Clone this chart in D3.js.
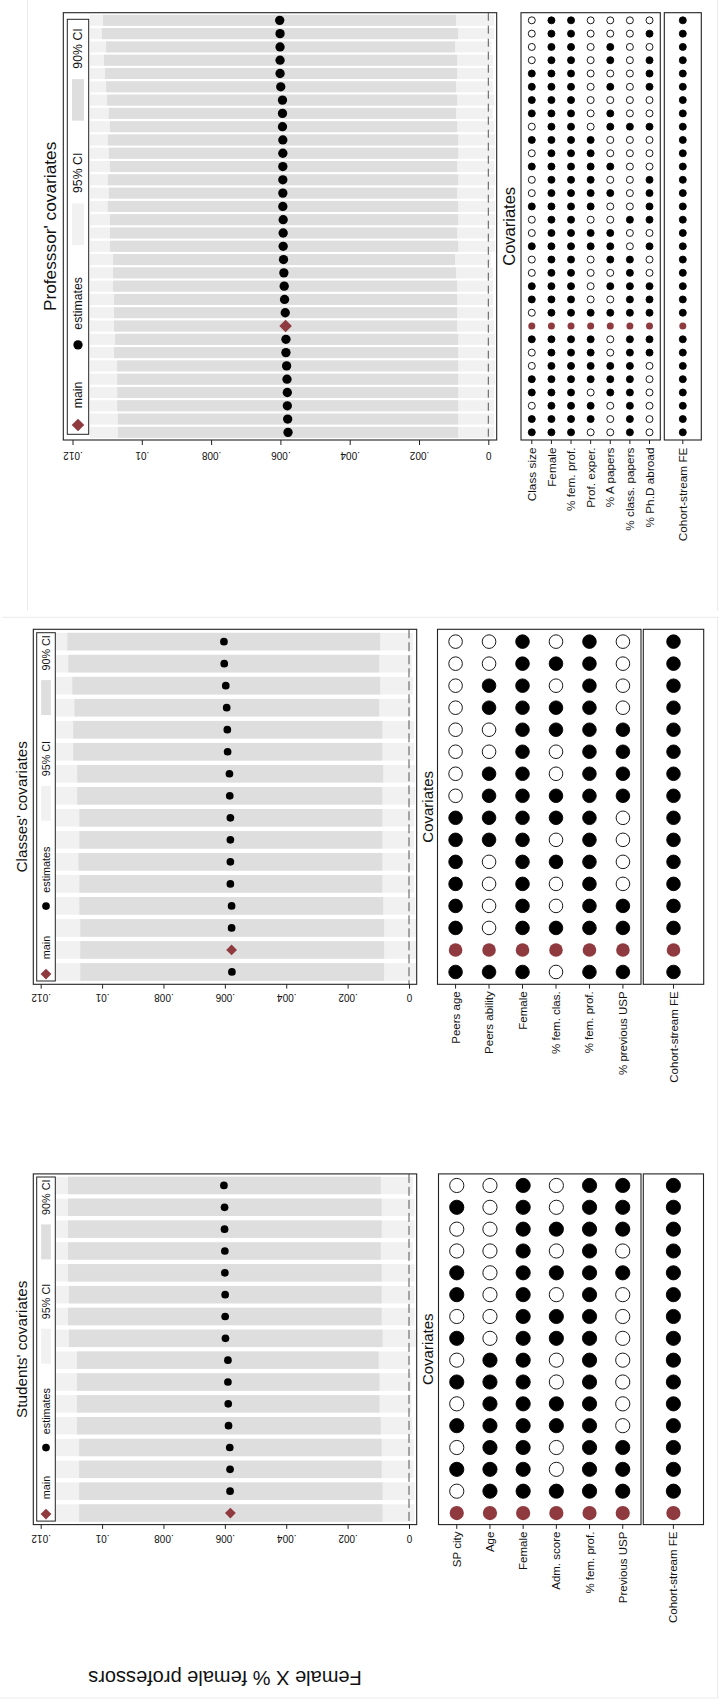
<!DOCTYPE html>
<html>
<head>
<meta charset="utf-8">
<script src="https://cdn.jsdelivr.net/npm/d3@7"></script>
<style>
  html, body { margin: 0; padding: 0; background: #fff; }
  svg { display: block; font-family: "Liberation Sans", Arial, Helvetica, sans-serif; }
</style>
</head>
<body>
<script>
// ---------- shared labels ----------
const tickValues = [0, 0.002, 0.004, 0.006, 0.008, 0.01, 0.012];
const tickLabels = ["0", ".002", ".004", ".006", ".008", ".01", ".012"];
const legendKeys = ["main", "estimates", "95% CI", "90% CI"];
const fixedEffects = ["Cohort-stream FE"];

// ---------- Professors' covariates (rows listed top to bottom) ----------
const profCovariates = ["Class size", "Female", "% fem. prof.", "Prof. exper.", "% A papers", "% class. papers", "% Ph.D abroad"];
const profEstimate = [.00602, .00601, .00601, .00601, .00601, .00599, .00594, .00594, .00594, .00593, .00593, .00593, .00593, .00593, .00593, .00592,
                      .00592, .00592, .00591, .00590, .00589, .00588, .00586, .00585, .00584, .00584, .00582, .00581, .00580, .00580, .00579, .00578];
const profHigh90 = [.01112, .01115, .01103, .01109, .01106, .01103, .01100, .01095, .01092, .01098, .01095, .01092, .01098, .01095, .01098, .01092,
                    .01092, .01092, .01083, .01083, .01083, .01080, .01080, .01080, .01077, .01080, .01071, .01071, .01071, .01071, .01069, .01069];
const profLow90 = [.00093, .00087, .00096, .00090, .00090, .00093, .00090, .00093, .00090, .00087, .00087, .00090, .00087, .00090, .00087, .00087,
                   .00090, .00087, .00096, .00093, .00090, .00090, .00090, .00090, .00087, .00087, .00087, .00087, .00087, .00087, .00087, .00087];
const profHigh95 = [.01221, .01219, .01211, .01216, .01216, .01211, .01205, .01201, .01205, .01205, .01205, .01203, .01205, .01203, .01205, .01203,
                    .01201, .01203, .01189, .01193, .01192, .01190, .01186, .01187, .01187, .01187, .01183, .01181, .01177, .01177, .01175, .01173];
const profLow95 = [-.00017, -.00017, -.00009, -.00014, -.00014, -.00013, -.00017, -.00013, -.00017, -.00019, -.00019, -.00017, -.00019, -.00017, -.00019, -.00019,
                   -.00017, -.00019, -.00007, -.00013, -.00014, -.00014, -.00014, -.00017, -.00019, -.00019, -.00019, -.00019, -.00017, -.00017, -.00017, -.00017];
const profSpecs = ["0110000", "0110001", "0110100", "0110101", "1110001", "1110101", "1110000", "1110100",
                   "0110111", "1111000", "0111000", "1111100", "0111001", "0111101", "1111001", "0110011",
                   "0111100", "1111101", "0110110", "0110010", "1110111", "1110011", "0111111", "1111111",
                   "1111011", "0111011", "0111110", "1111110", "1110110", "0111010", "1111010", "1110010"];
const profFE = [1, 1, 1, 1, 1, 1, 1, 1, 1, 1, 1, 1, 1, 1, 1, 1, 1, 1, 1, 1, 1, 1, 1, 1, 1, 1, 1, 1, 1, 1, 1, 1];
const profMain = 23;

// ---------- Classes' covariates ----------
const classCovariates = ["Peers age", "Peers ability", "Female", "% fem. clas.", "% fem. prof.", "% previous USP"];
const classEstimate = [.00603, .00602, .00597, .00594, .00592, .00591, .00585, .00584, .00582, .00582, .00582, .00582, .00578, .00578, .00578, .00577];
const classHigh90 = [.01113, .01110, .01097, .01090, .01094, .01094, .01081, .01081, .01074, .01074, .01077, .01074, .01074, .01071, .01071, .01071];
const classLow90 = [.00094, .00097, .00094, .00097, .00087, .00087, .00084, .00087, .00087, .00087, .00087, .00087, .00084, .00081, .00081, .00081];
const classHigh95 = [.01219, .01213, .01207, .01194, .01201, .01199, .01190, .01188, .01181, .01181, .01181, .01181, .01176, .01179, .01179, .01177];
const classLow95 = [-.00013, -.00009, -.00013, -.00006, -.00017, -.00017, -.00020, -.00020, -.00017, -.00017, -.00017, -.00017, -.00020, -.00023, -.00023, -.00023];
const classSpecs = ["001010", "001110", "011010", "011110", "001111", "001011", "011011", "011111",
                    "111110", "111010", "101110", "101010", "101011", "101111", "111111", "111011"];
const classFE = [1, 1, 1, 1, 1, 1, 1, 1, 1, 1, 1, 1, 1, 1, 1, 1];
const classMain = 14;

// ---------- Students' covariates ----------
const studentCovariates = ["SP city", "Age", "Female", "Adm. score", "% fem. prof.", "Previous USP"];
const studentEstimate = [.00603, .00601, .00601, .00600, .00600, .00599, .00599, .00598, .00590, .00590, .00589, .00588, .00584, .00583, .00583, .00582];
const studentHigh90 = [.01111, .01111, .01111, .01111, .01111, .01108, .01111, .01108, .01082, .01082, .01082, .01082, .01075, .01075, .01075, .01075];
const studentLow90 = [.00092, .00089, .00089, .00092, .00089, .00089, .00089, .00086, .00099, .00096, .00096, .00092, .00089, .00089, .00086, .00086];
const studentHigh95 = [.01219, .01220, .01220, .01213, .01218, .01216, .01216, .01218, .01184, .01188, .01186, .01187, .01183, .01181, .01184, .01182];
const studentLow95 = [-.00013, -.00018, -.00018, -.00013, -.00018, -.00018, -.00018, -.00022, -.00004, -.00008, -.00008, -.00011, -.00015, -.00015, -.00018, -.00018];
const studentSpecs = ["001011", "101011", "001111", "001010", "101111", "101010", "001110", "101110",
                      "011010", "111010", "011110", "111110", "011011", "111011", "011111", "111111"];
const studentFE = [1, 1, 1, 1, 1, 1, 1, 1, 1, 1, 1, 1, 1, 1, 1, 1];
const studentMain = 15;

const figureTitle = "Female X % female professors";

// ---------- styling ----------
const MAIN = "#8f3a3f";
const LIGHT = "#f1f1f1";
const DARK = "#dedede";
const FRAME = "#222";
const PAGE_LINE = "#ebebeb";

const svg = d3.select("body").append("svg").attr("width", 719).attr("height", 1700);

// faint page edges of the two stacked figures
const edges = [
  [27.5, 0, 27.5, 610.7], [717.5, 0, 717.5, 610.7],
  [2, 617.3, 719, 617.3], [717.5, 617.3, 717.5, 1698], [0, 1698, 719, 1698]
];
svg.append("g").selectAll("line").data(edges).join("line")
  .attr("x1", d => d[0]).attr("y1", d => d[1]).attr("x2", d => d[2]).attr("y2", d => d[3])
  .attr("stroke", PAGE_LINE).attr("stroke-width", 1);

let clipCount = 0;

function diamondPath(size) {
  return d3.symbol(d3.symbolSquare, size)();
}

function drawPanel(L, D) {
  const g = svg.append("g");
  const x = d3.scaleLinear().domain([0, 0.012]).range([L.zeroX, L.maxX]);
  const n = D.estimate.length;
  const rows = d3.range(n);
  const y = d3.scalePoint().domain(rows).range([L.y0, L.y1]).padding(L.rowPad);
  const bandH = y.step() * L.bandFrac;

  const clipId = "plotclip" + (clipCount++);
  g.append("clipPath").attr("id", clipId).append("rect")
    .attr("x", L.x0).attr("y", L.y0).attr("width", L.x1 - L.x0).attr("height", L.y1 - L.y0);
  const plot = g.append("g").attr("clip-path", `url(#${clipId})`);

  // 95% intervals
  plot.append("g").selectAll("rect").data(rows).join("rect")
    .attr("x", i => x(D.high95[i])).attr("width", i => x(D.low95[i]) - x(D.high95[i]))
    .attr("y", i => y(i) - bandH / 2).attr("height", bandH).attr("fill", LIGHT);
  // 90% intervals
  plot.append("g").selectAll("rect").data(rows).join("rect")
    .attr("x", i => x(D.high90[i])).attr("width", i => x(D.low90[i]) - x(D.high90[i]))
    .attr("y", i => y(i) - bandH / 2).attr("height", bandH).attr("fill", DARK);

  // zero reference
  plot.append("line")
    .attr("x1", x(0)).attr("x2", x(0)).attr("y1", L.y0).attr("y2", L.y1)
    .attr("stroke", "#444").attr("stroke-width", 0.9).attr("stroke-dasharray", L.dash);

  // point estimates
  plot.append("g").selectAll("circle").data(rows.filter(i => i !== D.main)).join("circle")
    .attr("cx", i => x(D.estimate[i])).attr("cy", i => y(i)).attr("r", L.dotR).attr("fill", "#000");
  plot.append("path")
    .attr("d", diamondPath(L.diamondSize))
    .attr("transform", `translate(${x(D.estimate[D.main])},${y(D.main)}) rotate(45)`)
    .attr("fill", MAIN);

  // legend inside the plot region
  const lg = L.legend;
  g.append("rect").attr("x", L.x0 + 0.5).attr("y", L.y0 + 0.5)
    .attr("width", lg.cover - L.x0 - 0.5).attr("height", L.y1 - L.y0 - 1).attr("fill", "#fff");
  g.append("rect").attr("x", lg.x0).attr("y", lg.y0)
    .attr("width", lg.x1 - lg.x0).attr("height", lg.y1 - lg.y0)
    .attr("fill", "#fff").attr("stroke", FRAME).attr("stroke-width", 1);
  const cx = (lg.x0 + lg.x1) / 2;
  const diag = Math.sqrt(L.diamondSize) * Math.SQRT2;
  const symLen = [diag, 2 * L.dotR, lg.swatchL, lg.swatchL];
  const texts = legendKeys.map(t => g.append("text").attr("font-size", lg.font).attr("fill", "#111").text(t));
  const widths = texts.map(t => t.node().getComputedTextLength());
  const fixed = lg.padStart + d3.sum(symLen) + 4 * lg.gap + d3.sum(widths) + lg.padEnd;
  const keyGap = ((lg.y1 - lg.y0) - fixed) / 3;
  let pos = lg.y1 - lg.padStart;
  legendKeys.forEach((k, i) => {
    const c = pos - symLen[i] / 2;
    if (i === 0) {
      g.append("path").attr("d", diamondPath(L.diamondSize))
        .attr("transform", `translate(${cx},${c}) rotate(45)`).attr("fill", MAIN);
    } else if (i === 1) {
      g.append("circle").attr("cx", cx).attr("cy", c).attr("r", L.dotR).attr("fill", "#000");
    } else {
      g.append("rect").attr("x", cx - lg.swatchW / 2).attr("y", pos - symLen[i])
        .attr("width", lg.swatchW).attr("height", symLen[i]).attr("fill", i === 2 ? LIGHT : DARK);
    }
    pos -= symLen[i] + lg.gap;
    texts[i].attr("transform", `translate(${cx},${pos}) rotate(-90)`).attr("dy", "0.35em");
    pos -= widths[i] + keyGap;
  });

  // plot frame
  g.append("rect").attr("x", L.x0).attr("y", L.y0)
    .attr("width", L.x1 - L.x0).attr("height", L.y1 - L.y0)
    .attr("fill", "none").attr("stroke", FRAME).attr("stroke-width", 1.1);

  // value axis along the bottom edge, labels turned upside down
  const ax = g.append("g").attr("transform", `translate(0,${L.y1})`)
    .call(d3.axisBottom(x).tickValues(tickValues).tickSize(L.tickLen).tickSizeOuter(0).tickFormat(""));
  ax.select(".domain").remove();
  ax.selectAll(".tick line").attr("stroke", FRAME);
  ax.selectAll(".tick").append("text")
    .attr("transform", `translate(0,${L.tickBase}) rotate(180)`)
    .attr("text-anchor", "middle").attr("fill", "#111").attr("font-size", L.tickFont)
    .text((d, i) => tickLabels[i]);

  // panel title
  g.append("text")
    .attr("transform", `translate(${L.titleX},${(L.y0 + L.y1) / 2}) rotate(-90)`)
    .attr("text-anchor", "middle").attr("font-size", L.titleFont).attr("fill", "#111")
    .text(L.title);

  // covariate matrix
  const M = L.matrix;
  const cols = D.covariates.map((c, j) => j);
  const cxs = d3.scalePoint().domain(cols).range([M.x0, M.x1]).padding(M.colPad);
  const cells = [];
  rows.forEach(i => cols.forEach(j => cells.push({ i, j, on: D.specs[i][j] === "1" })));
  g.append("g").selectAll("circle").data(cells).join("circle")
    .attr("cx", d => cxs(d.j)).attr("cy", d => y(d.i)).attr("r", M.r)
    .attr("fill", d => d.i === D.main ? MAIN : (d.on ? "#000" : "#fff"))
    .attr("stroke", d => d.i === D.main ? "none" : "#000").attr("stroke-width", 0.9);
  const feX = (M.fe0 + M.fe1) / 2;
  g.append("g").selectAll("circle").data(rows).join("circle")
    .attr("cx", feX).attr("cy", i => y(i)).attr("r", M.r)
    .attr("fill", i => i === D.main ? MAIN : (D.fe[i] ? "#000" : "#fff"))
    .attr("stroke", i => i === D.main ? "none" : "#000").attr("stroke-width", 0.9);

  g.append("rect").attr("x", M.x0).attr("y", L.y0).attr("width", M.x1 - M.x0).attr("height", L.y1 - L.y0)
    .attr("fill", "none").attr("stroke", FRAME).attr("stroke-width", 1.1);
  g.append("rect").attr("x", M.fe0).attr("y", L.y0).attr("width", M.fe1 - M.fe0).attr("height", L.y1 - L.y0)
    .attr("fill", "none").attr("stroke", FRAME).attr("stroke-width", 1.1);

  const labelCols = cols.map(j => ({ x: cxs(j), text: D.covariates[j] }))
    .concat(fixedEffects.map(t => ({ x: feX, text: t })));
  const lab = g.append("g").selectAll("g").data(labelCols).join("g");
  lab.append("line").attr("x1", d => d.x).attr("x2", d => d.x)
    .attr("y1", L.y1).attr("y2", L.y1 + M.tickLen).attr("stroke", FRAME);
  lab.append("text")
    .attr("transform", d => `translate(${d.x},${L.y1 + M.labelGap}) rotate(-90)`)
    .attr("text-anchor", "end").attr("dy", "0.35em").attr("font-size", M.labelFont).attr("fill", "#111")
    .text(d => d.text);

  g.append("text")
    .attr("transform", `translate(${L.covX},${(L.y0 + L.y1) / 2}) rotate(-90)`)
    .attr("text-anchor", "middle").attr("font-size", L.covFont).attr("fill", "#111")
    .text("Covariates");
}

// ---------- layout of the three panels ----------
const smallLegend = { font: 10.8, swatchW: 9.7, swatchL: 35, padStart: 1.6, gap: 9.5, padEnd: 2.5 };

drawPanel({
  x0: 63.3, x1: 496.7, y0: 12.7, y1: 440, zeroX: 488.3, maxX: 72.5,
  rowPad: 0.575, bandFrac: 0.83, dotR: 4.65, diamondSize: 79, dash: "8,5",
  legend: { x0: 67.3, x1: 88.7, y0: 19.3, y1: 434.3, cover: 90, font: 12.3, swatchW: 12, swatchL: 41.5, padStart: 3, gap: 10.5, padEnd: 9 },
  tickLen: 5, tickBase: 11.7, tickFont: 10,
  title: "Professsor' covariates", titleX: 56, titleFont: 17.3,
  covX: 515, covFont: 16.5,
  matrix: { x0: 521, x1: 660.3, fe0: 664.3, fe1: 701.3, colPad: 0.55, r: 3.5, tickLen: 4, labelGap: 7.5, labelFont: 11.8 }
}, { covariates: profCovariates, estimate: profEstimate, high90: profHigh90, low90: profLow90,
     high95: profHigh95, low95: profLow95, specs: profSpecs, fe: profFE, main: profMain });

drawPanel({
  x0: 33.3, x1: 416.7, y0: 629.3, y1: 984.3, zeroX: 409, maxX: 40.7,
  rowPad: 0.56, bandFrac: 0.8, dotR: 3.85, diamondSize: 58, dash: "9,4",
  legend: Object.assign({ x0: 36.7, x1: 55.3, y0: 632.7, y1: 981, cover: 56 }, smallLegend),
  tickLen: 4.3, tickBase: 9.5, tickFont: 10,
  title: "Classes' covariates", titleX: 27.3, titleFont: 15.3,
  covX: 432.5, covFont: 15,
  matrix: { x0: 437.5, x1: 641, fe0: 643.3, fe1: 703.7, colPad: 0.54, r: 6.8, tickLen: 4.3, labelGap: 7, labelFont: 11.5 }
}, { covariates: classCovariates, estimate: classEstimate, high90: classHigh90, low90: classLow90,
     high95: classHigh95, low95: classLow95, specs: classSpecs, fe: classFE, main: classMain });

drawPanel({
  x0: 33.3, x1: 416.7, y0: 1173.9, y1: 1524.6, zeroX: 409, maxX: 40.7,
  rowPad: 0.53, bandFrac: 0.8, dotR: 3.85, diamondSize: 58, dash: "9,4",
  legend: Object.assign({ x0: 36.7, x1: 55.3, y0: 1177, y1: 1521.1, cover: 56 }, smallLegend),
  tickLen: 4.3, tickBase: 10, tickFont: 10,
  title: "Students' covariates", titleX: 27.3, titleFont: 15.3,
  covX: 433.3, covFont: 15,
  matrix: { x0: 438.5, x1: 641, fe0: 643.3, fe1: 703.5, colPad: 0.55, r: 7.1, tickLen: 4.3, labelGap: 7, labelFont: 11.5 }
}, { covariates: studentCovariates, estimate: studentEstimate, high90: studentHigh90, low90: studentLow90,
     high95: studentHigh95, low95: studentLow95, specs: studentSpecs, fe: studentFE, main: studentMain });

// overall outcome label, upside down beneath the lower figure
svg.append("text")
  .attr("transform", "translate(225,1677.8) rotate(180)")
  .attr("text-anchor", "middle").attr("dy", "0.35em").attr("font-size", 20).attr("fill", "#111")
  .text(figureTitle);
</script>
</body>
</html>
